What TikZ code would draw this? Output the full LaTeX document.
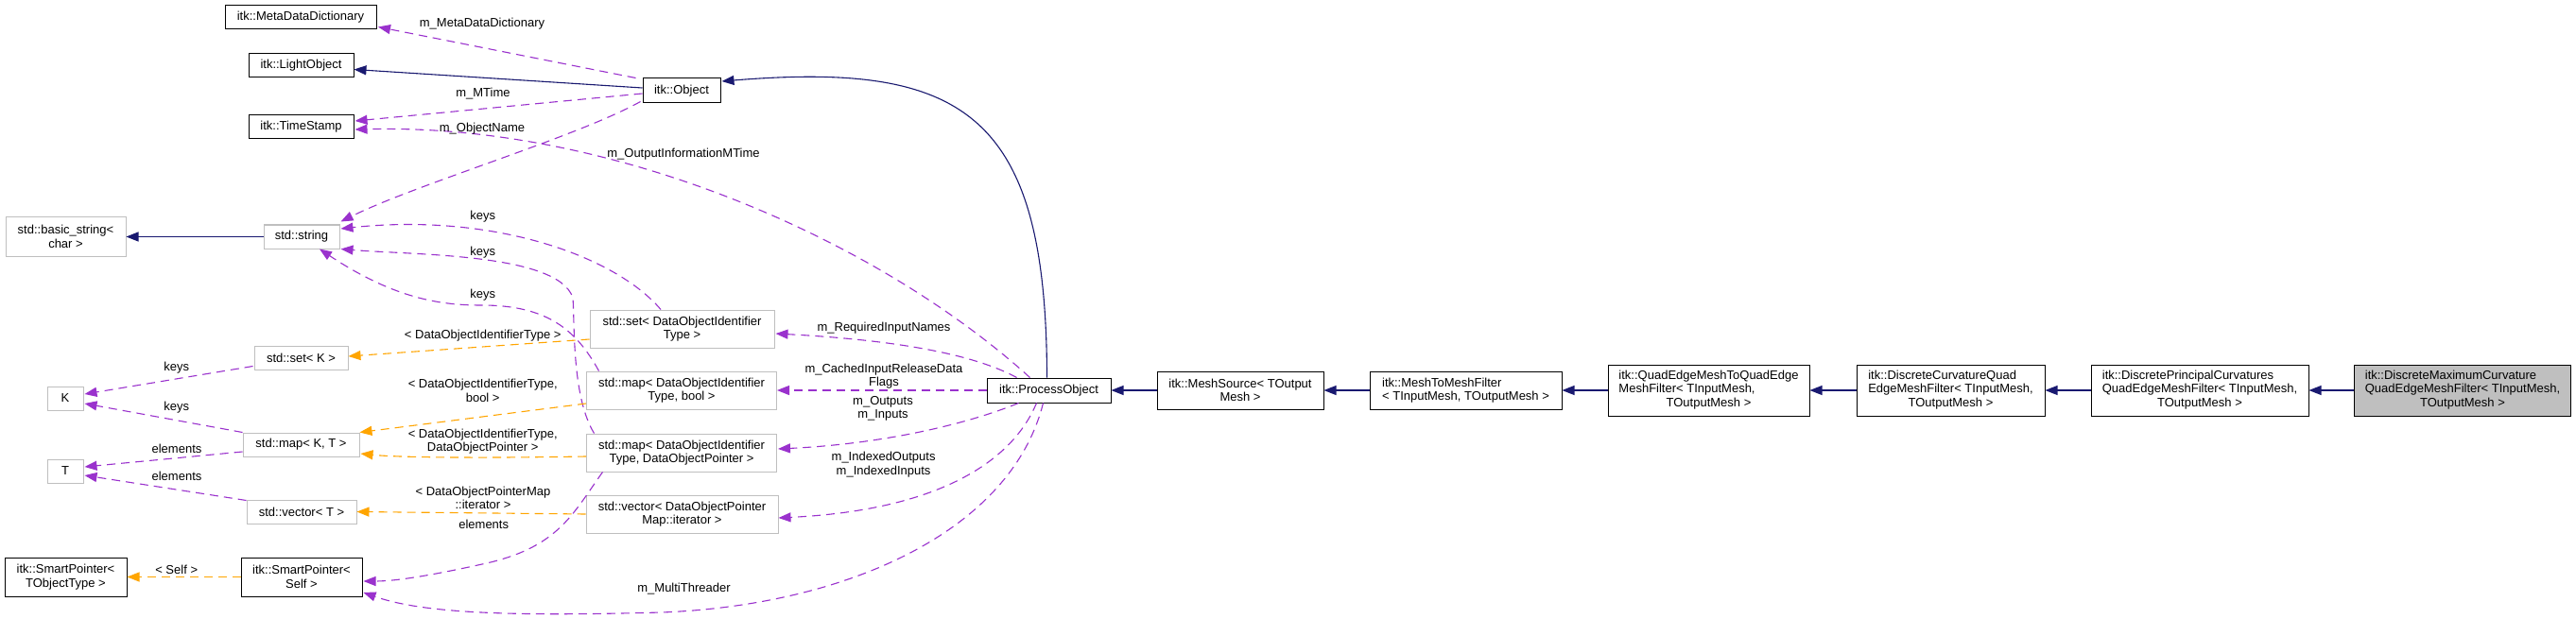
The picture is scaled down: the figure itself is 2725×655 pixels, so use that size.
\documentclass[tikz,border=0pt]{standalone}
\usepackage{fontspec}
\setmainfont{Liberation Sans}
\usetikzlibrary{arrows.meta,calc}
\definecolor{navy}{RGB}{25,25,112}
\definecolor{orch}{RGB}{154,50,205}
\definecolor{orng}{RGB}{255,165,0}
\definecolor{gbord}{RGB}{191,191,191}
\newcommand\llc[3]{\begin{tabular}{@{}l@{}}#1\\#2\\\multicolumn{1}{@{}c@{}}{#3}\end{tabular}}
\begin{document}
\begin{tikzpicture}[x=1pt,y=-1pt,
  every node/.style={font=\fontsize{13}{14.5}\selectfont, inner sep=0pt},
  cls/.style={draw=black, line width=1pt, fill=white, minimum width=#1, minimum height=25pt, align=center},
  ext/.style={draw=gbord, line width=1pt, fill=white, minimum width=#1, minimum height=25pt, align=center},
  two/.style={minimum height=40pt},
  three/.style={minimum height=54pt},
  lbl/.style={text=black, align=center},
  tip/.style={-{Triangle[length=13pt,width=10pt]}},
  inh/.style={draw=navy, line width=1.1pt, tip},
  use/.style={draw=orch, line width=1.1pt, dash pattern=on 9pt off 6pt, tip},
  tmpl/.style={draw=orng, line width=1.1pt, dash pattern=on 9pt off 6pt, tip}]
\fill[white] (0,0) rectangle (2725,655);
\useasboundingbox (0,0) rectangle (2725,655);

% nodes
\node[cls=160pt] (mdd) at (318,18.5) {itk::MetaDataDictionary};
\node[cls=111pt] (light) at (318.5,69.5) {itk::LightObject};
\node[cls=111pt] (ts) at (318.5,134.5) {itk::TimeStamp};
\node[cls=82pt, minimum height=26pt] (obj) at (721,96) {itk::Object};
\node[ext=127pt, two, minimum height=41pt] (bstr) at (69.5,250.5) {std::basic\_string<\\char >};
\node[ext=80pt] (str) at (319,250.5) {std::string};
\node[ext=99pt] (setK) at (318.5,378.5) {std::set< K >};
\node[ext=38pt] (K) at (69,421.5) {K};
\node[ext=123pt] (mapKT) at (318.5,470.5) {std::map< K, T >};
\node[ext=38pt] (T) at (69,498.5) {T};
\node[ext=116pt] (vecT) at (319,541.5) {std::vector< T >};
\node[cls=129pt, minimum height=41pt] (spT) at (69.5,610.5) {itk::SmartPointer<\\TObjectType >};
\node[cls=128pt, minimum height=41pt] (spS) at (319,610.5) {itk::SmartPointer<\\Self >};
\node[ext=195pt, two] (setD) at (721.5,348) {std::set< DataObjectIdentifier\\Type >};
\node[ext=201pt, two] (mapDB) at (721,413) {std::map< DataObjectIdentifier\\Type, bool >};
\node[ext=201pt, two] (mapDP) at (721,479) {std::map< DataObjectIdentifier\\Type, DataObjectPointer >};
\node[ext=203pt, two] (vecD) at (721.5,544) {std::vector< DataObjectPointer\\Map::iterator >};
\node[cls=131pt, minimum height=26pt] (po) at (1109.5,413) {itk::ProcessObject};
\node[cls=176pt, two] (ms) at (1312,413) {itk::MeshSource< TOutput\\Mesh >};
\node[cls=203pt, two, align=left] (m2m) at (1550.5,413) {itk::MeshToMeshFilter\\< TInputMesh, TOutputMesh >};
\node[cls=213pt, three] (qe) at (1807.5,413) {\llc{itk::QuadEdgeMeshToQuadEdge}{MeshFilter< TInputMesh,}{TOutputMesh >}};
\node[cls=199pt, three] (dc) at (2063.5,413) {\llc{itk::DiscreteCurvatureQuad}{EdgeMeshFilter< TInputMesh,}{TOutputMesh >}};
\node[cls=230pt, three] (dp) at (2327,413) {\llc{itk::DiscretePrincipalCurvatures}{QuadEdgeMeshFilter< TInputMesh,}{TOutputMesh >}};
\node[cls=229pt, three, fill=gbord] (dm) at (2605,413) {\llc{itk::DiscreteMaximumCurvature}{QuadEdgeMeshFilter< TInputMesh,}{TOutputMesh >}};

% inheritance
\draw[inh] ($(obj.west)+(0,-3)$) -- ($(light.east)+(0,4)$);
\draw[inh] ($(po.north)+(-2,0)$) .. controls (1107,120) and (1020,65) .. ($(obj.east)+(1,-10)$);
\draw[inh] (ms.west) -- (po.east);
\draw[inh] (m2m.west) -- (ms.east);
\draw[inh] (qe.west) -- (m2m.east);
\draw[inh] (dc.west) -- (qe.east);
\draw[inh] (dp.west) -- (dc.east);
\draw[inh] (dm.west) -- (dp.east);
\draw[inh] (str.west) -- (bstr.east);

% usage
\draw[use] ($(obj.north west)+(-7,0)$) -- ($(mdd.south east)+(1.5,-3)$);
\draw[use] ($(obj.west)+(0,3)$) -- ($(ts.east)+(1,-6.5)$);
\draw[use] ($(obj.south west)+(-2,-2)$) .. controls (610,145) and (440,195) .. ($(str.north east)+(1,-3)$);
\draw[use] ($(po.north)+(-20,0)$) .. controls (930,255) and (650,130) .. ($(ts.east)+(1,2.5)$);
\draw[use] ($(setD.north)+(-22.5,0)$) .. controls (650,270) and (520,225) .. ($(str.east)+(1,-8.5)$);
\draw[use] ($(mapDP.north west)+(8.5,0)$) .. controls (605,420) and (608,345) .. (606,315) .. controls (590,268) and (440,270) .. ($(str.south east)+(1,0)$);
\draw[use] ($(mapDB.north west)+(13.5,0)$) .. controls (610,350) and (580,323) .. (510,323) .. controls (470,323) and (420,318) .. ($(str.south)+(19,0)$);
\draw[tmpl] ($(setD.west)+(0,11)$) -- ($(setK.east)+(0,-1.5)$);
\draw[use] ($(setK.south west)+(-1,-4)$) -- ($(K.east)+(1,-4.5)$);
\draw[use] (mapKT.north west) -- ($(K.east)+(1,5.5)$);
\draw[use] ($(mapKT.west)+(0,7.5)$) -- ($(T.east)+(1,-4.5)$);
\draw[use] ($(vecT.north west)+(0,1)$) -- ($(T.east)+(1,4.5)$);
\draw[tmpl] ($(mapDB.west)+(0,14)$) -- (mapKT.north east);
\draw[tmpl] ($(mapDP.west)+(0,4)$) .. controls (500,485) and (420,484) .. ($(mapKT.east)+(1,9.5)$);
\draw[tmpl] (vecD.west) -- (vecT.east);
\draw[use] ($(mapDP.south west)+(17.5,0)$) .. controls (605,545) and (590,580) .. (510,597) .. controls (460,608) and (420,615) .. ($(spS.east)+(1,4.5)$);
\draw[use] ($(po.south)+(-6,0)$) .. controls (1070,560) and (900,640) .. (700,648) .. controls (550,652) and (450,650) .. ($(spS.east)+(1,16.5)$);
\draw[use] ($(po.north west)+(32,0)$) .. controls (1030,375) and (950,360) .. ($(setD.east)+(1,5)$);
\draw[use] (po.west) -- (mapDB.east);
\draw[use] ($(po.south west)+(34,0)$) .. controls (1020,450) and (930,470) .. ($(mapDP.east)+(1,-4)$);
\draw[use] ($(po.south)+(-13,0)$) .. controls (1070,490) and (990,540) .. ($(vecD.east)+(0,4)$);
\draw[tmpl] (spS.west) -- (spT.east);

% labels
\node[lbl] (l1) at (510,24.7) {m\_MetaDataDictionary};
\node[lbl] (l2) at (511,99.3) {m\_MTime};
\node[lbl] (l3) at (510,135.7) {m\_ObjectName};
\node[lbl] (l4) at (723,163.3) {m\_OutputInformationMTime};
\node[lbl] (l5) at (510.7,228.7) {keys};
\node[lbl] (l6) at (510.7,266.7) {keys};
\node[lbl] (l7) at (510.7,311.7) {keys};
\node[lbl] (l8) at (510.7,354.7) {< DataObjectIdentifierType >};
\node[lbl] (l9) at (186.7,388.7) {keys};
\node[lbl] (l10) at (510.7,413.5) {< DataObjectIdentifierType,\\bool >};
\node[lbl] (l11) at (186.7,430.7) {keys};
\node[lbl] (l12) at (510.7,467) {< DataObjectIdentifierType,\\DataObjectPointer >};
\node[lbl] (l13) at (187,474.7) {elements};
\node[lbl] (l14) at (187,504.3) {elements};
\node[lbl] (l15) at (511,527) {< DataObjectPointerMap\\::iterator >};
\node[lbl] (l16) at (511.7,554.7) {elements};
\node[lbl] (l17) at (186.7,602.7) {< Self >};
\node[lbl] (l18) at (723.5,623.3) {m\_MultiThreader};
\node[lbl] (l19) at (935,347) {m\_RequiredInputNames};
\node[lbl] (l20) at (935,398) {m\_CachedInputReleaseData\\Flags};
\node[lbl] (l21) at (934,432.5) {m\_Outputs\\m\_Inputs};
\node[lbl] (l22) at (934.6,491.5) {m\_IndexedOutputs\\m\_IndexedInputs};
\end{tikzpicture}
\end{document}
